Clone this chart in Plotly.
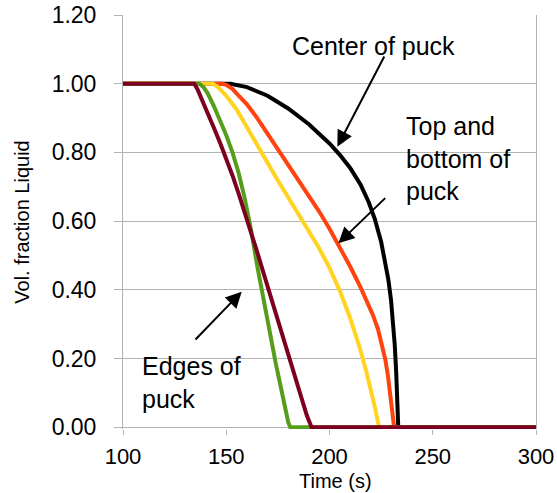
import plotly.graph_objects as go

# Liquid volume fraction vs. time at five locations in the puck
t_center = [100, 152, 160, 170, 180, 190, 200, 205, 210, 215, 219, 222, 225, 227,
            228.5, 229.8, 230.8, 231.6, 232.3, 232.8, 233.3, 300]
v_center = [1.0, 1.0, 0.99, 0.965, 0.928, 0.882, 0.826, 0.793, 0.755, 0.707, 0.655,
            0.605, 0.54, 0.483, 0.43, 0.37, 0.31, 0.24, 0.16, 0.08, 0.0, 0.0]

t_topbot = [100, 148, 150, 153, 156, 160, 165, 170, 175, 180, 185, 190, 195, 200, 205,
            210, 215, 218, 221, 223.5, 225.5, 227, 228.3, 229.4, 230.4, 231.3, 300]
v_topbot = [1.0, 1.0, 0.997, 0.985, 0.965, 0.94, 0.9, 0.855, 0.808, 0.762, 0.717, 0.674,
            0.628, 0.578, 0.525, 0.468, 0.408, 0.37, 0.327, 0.285, 0.24, 0.198, 0.15,
            0.1, 0.05, 0.0, 0.0]

t_mid = [100, 143.5, 146, 150, 155, 160, 165, 170, 175, 180, 185, 190, 195, 200, 205,
         210, 215, 218, 220, 222, 224, 300]
v_mid = [1.0, 1.0, 0.99, 0.965, 0.925, 0.875, 0.822, 0.77, 0.718, 0.668, 0.62, 0.572,
         0.521, 0.464, 0.397, 0.318, 0.225, 0.158, 0.11, 0.058, 0.0, 0.0]

t_edge1 = [100, 137, 139, 141, 144, 147, 150, 153, 156, 159, 162, 165, 168, 171, 174,
           176.5, 178.5, 180, 181, 300]
v_edge1 = [1.0, 1.0, 0.99, 0.972, 0.935, 0.893, 0.85, 0.8, 0.74, 0.665, 0.575, 0.47,
           0.37, 0.275, 0.185, 0.115, 0.055, 0.015, 0.0, 0.0]

t_edge2 = [100, 134.5, 136, 138, 141, 144, 147, 150, 153, 156, 159, 162, 165, 168,
           171, 174, 177, 180, 183, 186, 189, 191.3, 300]
v_edge2 = [1.0, 1.0, 0.985, 0.958, 0.915, 0.872, 0.828, 0.782, 0.733, 0.68, 0.625,
           0.568, 0.51, 0.45, 0.39, 0.33, 0.27, 0.21, 0.15, 0.09, 0.035, 0.0, 0.0]

series = [
    ("Center", t_center, v_center, "#000000"),
    ("Top/bottom", t_topbot, v_topbot, "#ff420e"),
    ("Intermediate", t_mid, v_mid, "#ffd320"),
    ("Edge (inner)", t_edge1, v_edge1, "#579d1c"),
    ("Edge (outer)", t_edge2, v_edge2, "#7e0021"),
]

x_ticks = [100, 150, 200, 250, 300]
y_ticks = [0.0, 0.2, 0.4, 0.6, 0.8, 1.0, 1.2]

FONT = "Liberation Sans, Arial, sans-serif"
GRID = "#b3b3b3"

fig = go.Figure()
for name, t, v, color in series:
    fig.add_trace(go.Scatter(x=t, y=v, mode="lines", name=name,
                             line=dict(color=color, width=4)))

# Callout labels: (text, x, y)
labels = [
    ("Center of puck", 180.8, 1.1086),
    ("Top and<br>bottom of<br>puck", 236.1, 0.7835),
    ("Edges of<br>puck", 108.2, 0.1316),
]
for text, x, y in labels:
    fig.add_annotation(x=x, y=y, text=text, showarrow=False, xanchor="left",
                       yanchor="middle", align="left",
                       font=dict(family=FONT, size=25, color="#000000"))

# Arrows: (tail x, tail y, head x, head y)
arrows = [
    (226.9, 1.0836, 203.8, 0.8167),
    (227.7, 0.6712, 204.3, 0.5356),
    (134.4, 0.2512, 157.5, 0.3947),
]
for ax, ay, x, y in arrows:
    fig.add_annotation(x=x, y=y, ax=ax, ay=ay, axref="x", ayref="y", text="",
                       showarrow=True, arrowhead=2, arrowsize=1.6, arrowwidth=2,
                       arrowcolor="#000000")

# X-axis title placed below the tick labels
fig.add_annotation(text="Time (s)", xref="paper", yref="paper", x=0.5145, y=-0.126,
                   xanchor="center", yanchor="middle", showarrow=False,
                   font=dict(family=FONT, size=20, color="#000000"))

fig.update_layout(
    width=557, height=493,
    margin=dict(l=123, r=21, t=15, b=64),
    paper_bgcolor="#ffffff", plot_bgcolor="#ffffff",
    showlegend=False,
    font=dict(family=FONT, color="#000000"),
)
fig.update_xaxes(
    range=[100, 300], tickvals=x_ticks, ticktext=[str(v) for v in x_ticks],
    showgrid=False, zeroline=False, showline=False,
    ticks="outside", ticklen=5, tickcolor=GRID, tickwidth=1,
    ticklabelstandoff=3, tickfont=dict(family=FONT, size=22, color="#000000"),
    automargin=False,
)
fig.update_yaxes(
    range=[-0.005, 1.2], tickvals=y_ticks, ticktext=[f"{v:.2f}" for v in y_ticks],
    showgrid=True, gridcolor=GRID, gridwidth=1, zeroline=False,
    showline=True, linecolor=GRID, linewidth=1, mirror=True,
    ticks="outside", ticklen=8, tickcolor=GRID, tickwidth=1,
    ticklabelstandoff=13, tickfont=dict(family=FONT, size=23, color="#000000"),
    title=dict(text="Vol. fraction Liquid", font=dict(family=FONT, size=20, color="#000000"),
               standoff=16),
    automargin=False,
)

fig.write_html("out.html")
